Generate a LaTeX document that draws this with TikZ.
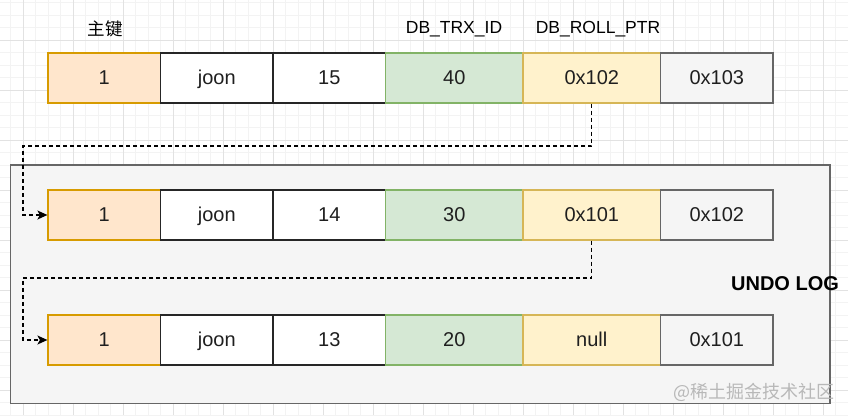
\documentclass[tikz,border=0pt]{standalone}
\usepackage{fontspec}
\setmainfont{Liberation Sans}
\newfontfamily\cjk{Noto Sans CJK SC}
\usetikzlibrary{arrows.meta}
\definecolor{orgfill}{HTML}{FFE6CC}\definecolor{orgline}{HTML}{D79B00}
\definecolor{grnfill}{HTML}{D5E8D4}\definecolor{grnline}{HTML}{82B366}
\definecolor{ylwfill}{HTML}{FFF2CC}\definecolor{ylwline}{HTML}{D6B656}
\definecolor{gryfill}{HTML}{F5F5F5}\definecolor{gryline}{HTML}{666666}
\definecolor{gridmaj}{HTML}{E2E2E2}\definecolor{gridmin}{HTML}{F3F3F3}
\tikzset{
  cellbox/.style={draw, line width=1.2pt, minimum height=50pt, inner sep=0pt, text height=18.1pt, text depth=4.2pt, font=\fontsize{20}{24}\selectfont, text=black!88},
  narrow/.style={cellbox, minimum width=112.5pt},
  wide/.style={cellbox, minimum width=137.5pt},
  pk/.style={narrow, fill=orgfill, draw=orgline},
  plain/.style={narrow, fill=white, draw=black!85},
  trx/.style={wide, fill=grnfill, draw=grnline},
  roll/.style={wide, fill=ylwfill, draw=ylwline},
  nxt/.style={narrow, fill=gryfill, draw=gryline},
  head/.style={font=\fontsize{17.5}{21}\selectfont, inner sep=0pt},
  link/.style={dashed, dash pattern=on 4pt off 3pt, line width=1.3pt, -{Stealth[length=10pt,width=9pt,inset=2.5pt]}}
}
\begin{document}
\begin{tikzpicture}[x=1pt,y=-1pt]
\useasboundingbox (0,0) rectangle (848,415);
\fill[white] (0,0) rectangle (848,415);
% grid
\foreach \i in {0,...,68} {\draw[gridmin, line width=0.6pt] ({10.5+12.5*\i},0) -- ({10.5+12.5*\i},415);}
\foreach \i in {0,...,33} {\draw[gridmin, line width=0.6pt] (0,{2.5+12.5*\i}) -- (848,{2.5+12.5*\i});}
\foreach \i in {0,...,16} {\draw[gridmaj, line width=0.8pt] ({23+50*\i},0) -- ({23+50*\i},415);}
\foreach \i in {0,...,7} {\draw[gridmaj, line width=0.8pt] (0,{40+50*\i}) -- (848,{40+50*\i});}

% container
\node[draw=gryline, fill=gryfill, line width=1.2pt, minimum width=819.3pt, minimum height=238.3pt, inner sep=0pt] (undo) at (420.35,284.15) {};

% headers
\node[head] (hpk) at (105,29) {\cjk 主键};
\node[head] (htrx) at (454,29) {DB\_TRX\_ID};
\node[head] (hroll) at (598,29) {DB\_ROLL\_PTR};

% rows
\foreach \r/\y/\c/\t/\p/\n in {1/78/15/40/0x102/0x103, 2/215/14/30/0x101/0x102, 3/340/13/20/null/0x101} {
  \node[pk]    (r\r c1) at (104.25,\y) {1};
  \node[plain] (r\r c2) at (216.75,\y) {joon};
  \node[plain] (r\r c3) at (329.25,\y) {\c};
  \node[trx]   (r\r c4) at (454.25,\y) {\t};
  \node[roll]  (r\r c5) at (591.75,\y) {\p};
  \node[nxt]   (r\r c6) at (716.75,\y) {\n};
}

\node[font=\bfseries\fontsize{20}{24}\selectfont, inner sep=0pt] (ul) at (785,284) {UNDO LOG};
\node[font=\cjk\fontsize{18}{20}\selectfont, text=black!28, inner sep=0pt] (wm) at (754,392) {@稀土掘金技术社区};

% connectors
\coordinate (k1) at (23,146);
\coordinate (k2) at (23,278);
\draw[link] (r1c5.south) |- (k1) |- (r2c1.west);
\draw[link] (r2c5.south) |- (k2) |- (r3c1.west);
\end{tikzpicture}
\end{document}
